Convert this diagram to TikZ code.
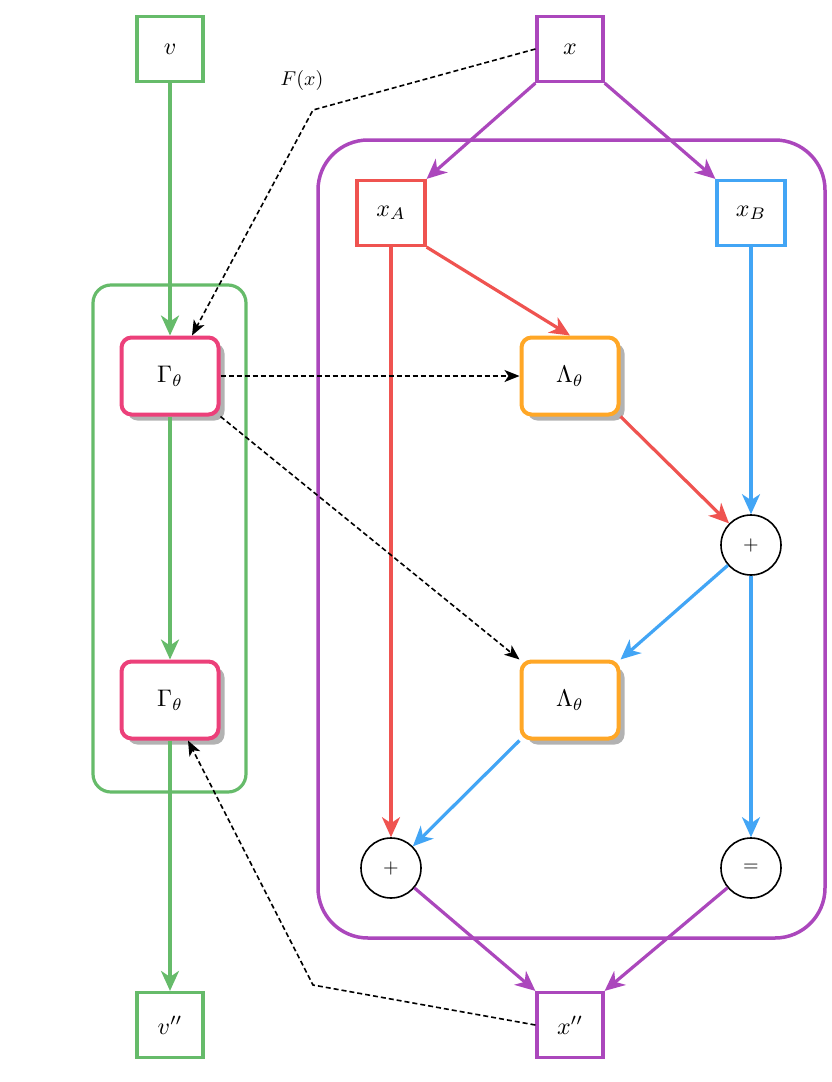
\documentclass[tikz,border=0pt]{standalone}
\usepackage{graphicx}
\usetikzlibrary{arrows.meta,shadows}
\definecolor{cg}{HTML}{66BB6A}
\definecolor{cp}{HTML}{AB47BC}
\definecolor{cr}{HTML}{EF5350}
\definecolor{cb}{HTML}{42A5F5}
\definecolor{co}{HTML}{FFA726}
\definecolor{ck}{HTML}{EC407A}
\newcommand{\bigT}[1]{\scalebox{2.4}{#1}}
\begin{document}
\begin{tikzpicture}[x=1pt,y=-1pt,
  sq/.style={draw,line width=3.2pt,minimum width=66pt,minimum height=65pt,inner sep=0pt,fill=white},
  op/.style={draw,line width=4pt,rounded corners=10pt,minimum width=97pt,minimum height=77pt,inner sep=0pt,fill=white,drop shadow={shadow xshift=6pt,shadow yshift=-6pt,fill=black!30,opacity=1}},
  cc/.style={circle,draw,line width=1.6pt,minimum size=60pt,inner sep=0pt,fill=white},
  ar/.style={line width=3.2pt,-{Stealth[length=20pt,width=18pt,inset=6pt]}},
  da/.style={dash pattern=on 5pt off 3pt,line width=1.6pt,-{Stealth[length=15pt,width=12pt,inset=4pt]}}]
\useasboundingbox (0,0) rectangle (831,1082);
\draw[cg,line width=3.2pt,rounded corners=18pt] (93,285) rectangle (246,792);
\draw[cp,line width=3.5pt,rounded corners=50pt] (318,140) rectangle (825,938);
\node[sq,draw=cg] (v) at (170,49) {\bigT{$v$}};
\node[sq,draw=cp] (x) at (570,49) {\bigT{$x$}};
\node[sq,draw=cg] (v2) at (170,1025) {\bigT{$v''$}};
\node[sq,draw=cp] (x2) at (570,1025) {\bigT{$x''$}};
\node[sq,draw=cr,minimum width=68pt] (xa) at (391,213) {\bigT{$x_A$}};
\node[sq,draw=cb,minimum width=68pt] (xb) at (751,213) {\bigT{$x_B$}};
\node[op,draw=ck] (g1) at (170,376) {\bigT{$\Gamma_\theta$}};
\node[op,draw=ck] (g2) at (170,700) {\bigT{$\Gamma_\theta$}};
\node[op,draw=co] (l1) at (570,376) {\bigT{$\Lambda_\theta$}};
\node[op,draw=co] (l2) at (570,700) {\bigT{$\Lambda_\theta$}};
\node[cc] (p1) at (751,545) {\scalebox{2}{$+$}};
\node[cc] (p2) at (391,868) {\scalebox{2}{$+$}};
\node[cc] (eq) at (751,868) {\scalebox{2}{$=$}};
\coordinate (c1) at (313,110);
\coordinate (c2) at (313,985);
\node (F) at (302,80) {\scalebox{2}{$F(x)$}};
\draw[ar,cg] (v) -- (g1);
\draw[ar,cg] (g1) -- (g2);
\draw[ar,cg] (g2) -- (v2);
\draw[ar,cp] (x.south west) -- (xa.north east);
\draw[ar,cp] (x.south east) -- (xb.north west);
\draw[ar,cr] (xa) -- (p2);
\draw[ar,cr] (xa.south east) -- (l1.north);
\draw[ar,cr] (l1.south east) -- (p1);
\draw[ar,cb] (xb) -- (p1);
\draw[ar,cb] (p1) -- (l2.north east);
\draw[ar,cb] (p1) -- (eq);
\draw[ar,cb] (l2.south west) -- (p2);
\draw[ar,cp] (p2) -- (x2.north west);
\draw[ar,cp] (eq) -- (x2.north east);
\draw[da] (x.west) -- (c1) -- ([xshift=22pt]g1.north);
\draw[da] (g1.east) -- (l1.west);
\draw[da] (g1.south east) -- (l2.north west);
\draw[da] (x2.west) -- (c2) -- ([xshift=18pt]g2.south);
\end{tikzpicture}
\end{document}
